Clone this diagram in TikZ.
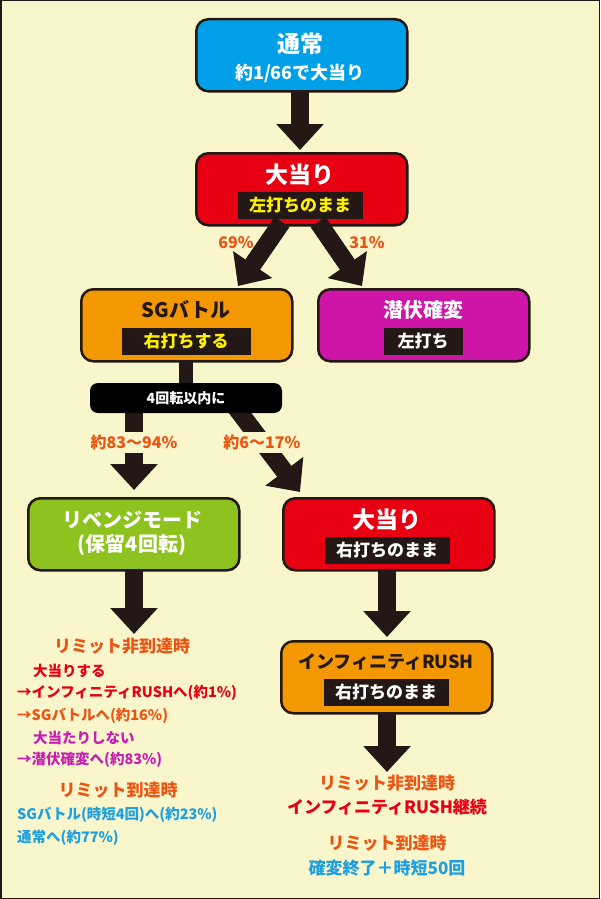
\documentclass[tikz,border=0pt]{standalone}
\usepackage{fontspec}
\setmainfont{Noto Sans CJK JP}
\usetikzlibrary{arrows.meta}
\definecolor{bg}{HTML}{FAF6CC}
\definecolor{ink}{HTML}{231815}
\definecolor{cy}{HTML}{00A0E9}
\definecolor{rd}{HTML}{E60012}
\definecolor{og}{HTML}{F39800}
\definecolor{mg}{HTML}{CF15A8}
\definecolor{gr}{HTML}{8DC21F}
\definecolor{tor}{HTML}{EA5514}
\definecolor{tmg}{HTML}{C81EB4}
\definecolor{tbl}{HTML}{1E9FE0}
\definecolor{yl}{HTML}{FFF100}
\begin{document}
\begin{tikzpicture}[x=1pt,y=-1pt,font=\bfseries,
 box/.style={draw=ink,line width=2.5pt,rounded corners=12pt,minimum width=211pt,minimum height=72pt,anchor=north west},
 tag/.style={fill=ink,inner sep=0pt,minimum height=27pt,font=\bfseries\fontsize{17}{17}\selectfont},
 ttl/.style={font=\bfseries\fontsize{23}{23}\selectfont},
 big/.style={ink,line width=18pt,-{Triangle[length=26pt,width=46pt]}},
 pct/.style={text=tor,font=\bfseries\fontsize{16}{16}\selectfont},
 note/.style={font=\bfseries\fontsize{14.5}{14.5}\selectfont,anchor=west,inner sep=0pt}]
\fill[bg,draw=ink,line width=1.5pt] (0.75,0.75) rectangle (599.25,898.25);
\useasboundingbox (0,0) rectangle (600,899);
% boxes
\node[box,fill=cy] (n1) at (195,18) {};
\node[ttl,text=white] at (300,44) {通常};
\node[text=white,font=\bfseries\fontsize{18}{18}\selectfont] at (300,73) {約1/66で大当り};
\node[box,fill=rd] (n2) at (195,152) {};
\node[ttl,text=white] at (300,175) {大当り};
\node[tag,text=yl,minimum width=125pt] at (300,205) {左打ちのまま};
\node[box,fill=og] (n3) at (80,288) {};
\node[text=ink,font=\bfseries\fontsize{20}{20}\selectfont] at (186,310) {SGバトル};
\node[tag,text=yl,minimum width=129pt] at (186,341) {右打ちする};
\node[box,fill=mg] (n4) at (317,288) {};
\node[text=white,font=\bfseries\fontsize{20}{20}\selectfont] at (423,310) {潜伏確変};
\node[tag,text=white,minimum width=79pt] at (423,341) {左打ち};
\node[box,fill=gr] (n5) at (27,497) {};
\node[text=white,font=\bfseries\fontsize{20}{24}\selectfont,align=center] at (132,533) {リベンジモード\\(保留4回転)};
\node[box,fill=rd] (n6) at (282,497) {};
\node[ttl,text=white] at (387,520) {大当り};
\node[tag,text=white,minimum width=125pt] at (387,550) {右打ちのまま};
\node[box,fill=og] (n7) at (280,640) {};
\node[text=ink,font=\bfseries\fontsize{18}{18}\selectfont] at (386,662) {インフィニティRUSH};
\node[tag,text=white,minimum width=125pt] at (386,692) {右打ちのまま};
% arrows
\coordinate (a1) at (300,90); \coordinate (b1) at (300,150);
\draw[big] (a1) -- (b1);
\coordinate (a2) at (282,222); \coordinate (b2) at (238,286);
\draw[big] (a2) -- (b2);
\coordinate (a3) at (318,222); \coordinate (b3) at (362,286);
\draw[big] (a3) -- (b3);
\coordinate (a4) at (186,360); \coordinate (b4) at (186,390);
\draw[ink,line width=14pt] (a4) -- (b4);
\coordinate (a5) at (134,405); \coordinate (b5) at (134,490);
\draw[big] (a5) -- (b5);
\coordinate (a6) at (234,405); \coordinate (b6) at (300,492);
\draw[big] (a6) -- (b6);
\node[fill=black,rounded corners=8pt,minimum width=192pt,minimum height=30pt,text=white,font=\bfseries\fontsize{14}{14}\selectfont] (bar) at (186,398) {4回転以内に};
\fill[bg] (100,432) rectangle (170,453);
\fill[bg] (215,432) rectangle (312,453);
\node[pct] at (134,442) {約83〜94\%};
\node[pct] at (262,442) {約6〜17\%};
\node[pct] at (236,243) {69\%};
\node[pct] at (367,243) {31\%};
\coordinate (a7) at (134,570); \coordinate (b7) at (134,634);
\draw[big] (a7) -- (b7);
\coordinate (a8) at (387,570); \coordinate (b8) at (387,637);
\draw[big] (a8) -- (b8);
\coordinate (a9) at (387,712); \coordinate (b9) at (387,772);
\draw[big] (a9) -- (b9);
% notes left
\node[text=tor,font=\bfseries\fontsize{17}{17}\selectfont] at (122,646) {リミット非到達時};
\node[note,text=rd] at (33,671) {大当りする};
\node[note,text=rd] at (17,693) {→インフィニティRUSHへ(約1\%)};
\node[note,text=tor] at (17,716) {→SGバトルへ(約16\%)};
\node[note,text=tmg] at (33,738) {大当たりしない};
\node[note,text=tmg] at (17,760) {→潜伏確変へ(約83\%)};
\node[text=tor,font=\bfseries\fontsize{17}{17}\selectfont] at (118,790) {リミット到達時};
\node[note,text=tbl] at (17,815) {SGバトル(時短4回)へ(約23\%)};
\node[note,text=tbl] at (17,838) {通常へ(約77\%)};
% notes right
\node[text=tor,font=\bfseries\fontsize{17}{17}\selectfont] at (387,783) {リミット非到達時};
\node[text=rd,font=\bfseries\fontsize{17}{17}\selectfont] at (387,807) {インフィニティRUSH継続};
\node[text=tor,font=\bfseries\fontsize{17}{17}\selectfont] at (387,843) {リミット到達時};
\node[text=tbl,font=\bfseries\fontsize{17}{17}\selectfont] at (387,868) {確変終了＋時短50回};
\end{tikzpicture}
\end{document}
